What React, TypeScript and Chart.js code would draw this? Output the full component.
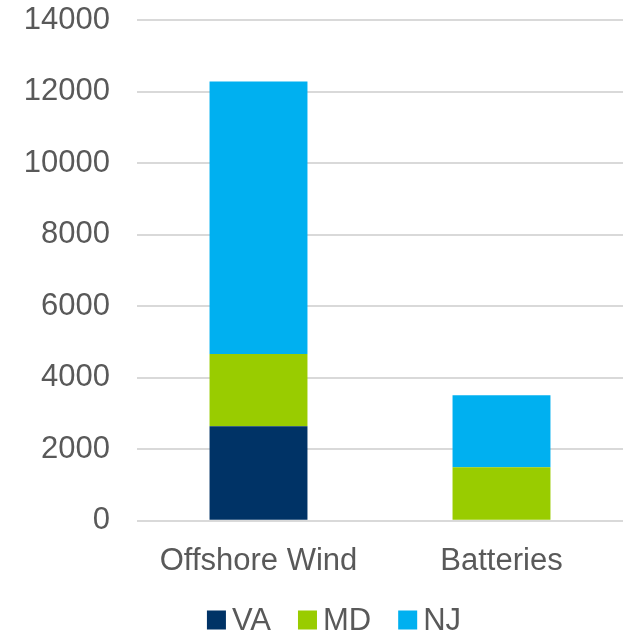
import React, { useEffect, useRef } from "react";
import { Chart, registerables } from "chart.js";

Chart.register(...registerables);

const categories = ["Offshore Wind", "Batteries"];
const vaValues = [2640, 0];
const mdValues = [2020, 1500];
const njValues = [7620, 2010];
const yTicks = { min: 0, max: 14000, step: 2000 };

const FONT = "'Liberation Sans', Arial, sans-serif";
const FONT_SIZE = 31;
const TEXT = "#595959";

// Compact legend drawn under the axis: small square, short gap, label.
const bottomLegend = {
  id: "bottomLegend",
  afterDraw(chart: any) {
    const ctx = chart.ctx as CanvasRenderingContext2D;
    const box = 19;
    const boxGap = 6;
    const itemGap = 27;
    const centerX = 334;
    const centerY = 620;
    ctx.save();
    ctx.font = `${FONT_SIZE}px ${FONT}`;
    ctx.textBaseline = "middle";
    ctx.textAlign = "left";
    const items = chart.data.datasets.map((ds: any) => ({
      label: ds.label as string,
      color: ds.backgroundColor as string,
      w: ctx.measureText(ds.label).width,
    }));
    const total =
      items.reduce((s: number, it: any) => s + box + boxGap + it.w, 0) +
      itemGap * (items.length - 1);
    let x = centerX - total / 2;
    for (const it of items) {
      ctx.fillStyle = it.color;
      ctx.fillRect(x, centerY - box / 2, box, box);
      x += box + boxGap;
      ctx.fillStyle = TEXT;
      ctx.fillText(it.label, x, centerY + 1);
      x += it.w + itemGap;
    }
    ctx.restore();
  },
};

export default function App() {
  const canvasRef = useRef<HTMLCanvasElement | null>(null);

  useEffect(() => {
    if (!canvasRef.current) return;
    const chart = new Chart(canvasRef.current, {
      type: "bar",
      data: {
        labels: categories,
        datasets: [
          { label: "VA", data: vaValues, backgroundColor: "#003366" },
          { label: "MD", data: mdValues, backgroundColor: "#99cc00" },
          { label: "NJ", data: njValues, backgroundColor: "#00b0f0" },
        ],
      },
      plugins: [bottomLegend],
      options: {
        animation: false,
        responsive: false,
        maintainAspectRatio: false,
        datasets: {
          bar: { categoryPercentage: 1, barPercentage: 0.403 },
        },
        layout: { padding: { top: 20, right: 8, left: 0, bottom: 41 } },
        plugins: {
          tooltip: { enabled: false },
          legend: { display: false },
        },
        scales: {
          x: {
            stacked: true,
            grid: { display: false },
            border: { display: false },
            ticks: {
              color: TEXT,
              font: { family: FONT, size: FONT_SIZE },
              padding: 14,
            },
          },
          y: {
            stacked: true,
            min: yTicks.min,
            max: yTicks.max,
            afterFit: (s: any) => {
              s.width = 137;
              s.paddingTop = 0;
              s.paddingBottom = 0;
            },
            grid: { color: "#d9d9d9", lineWidth: 2, drawTicks: false },
            border: { display: false },
            ticks: {
              stepSize: yTicks.step,
              color: TEXT,
              font: { family: FONT, size: FONT_SIZE },
              padding: 27,
              callback: (v: any) => String(v),
            },
          },
        },
      },
    });
    return () => chart.destroy();
  }, []);

  return (
    <div style={{ position: "absolute", left: 0, top: 0, width: 631, height: 635, background: "#fff" }}>
      <canvas ref={canvasRef} width={631} height={635} />
    </div>
  );
}
